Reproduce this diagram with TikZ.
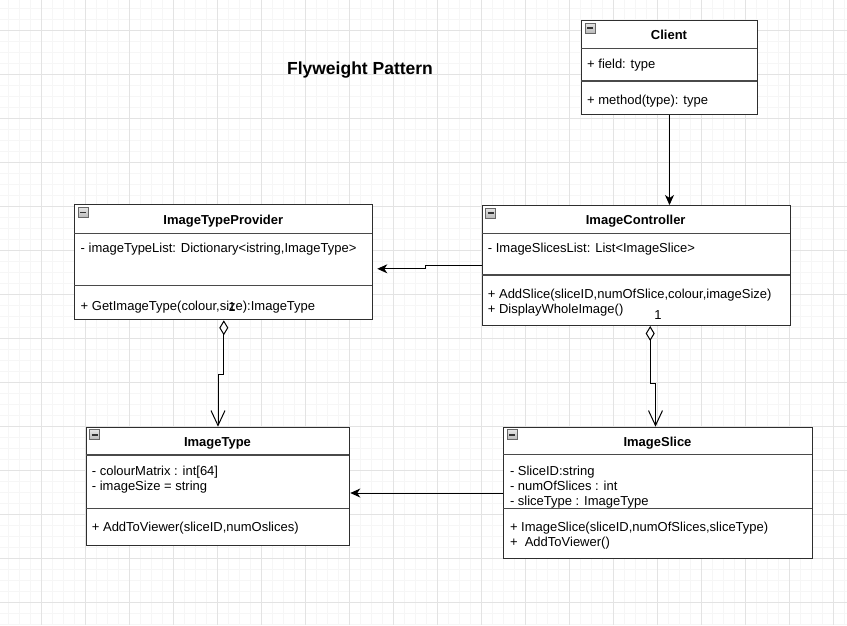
\documentclass[tikz,border=0pt]{standalone}
\usepackage{fontspec}
\setmainfont{Liberation Sans}
\usetikzlibrary{arrows.meta,calc}

\definecolor{minorgrid}{HTML}{F6F6F6}
\definecolor{majorgrid}{HTML}{E3E3E3}
\definecolor{boxgray}{HTML}{2E2E2E}
\definecolor{divgray}{HTML}{4A4A4A}

\tikzset{
  classbox/.style={draw=boxgray, line width=1pt, fill=white, inner sep=0pt, anchor=north west},
  divider/.style={draw=divgray, line width=1.3pt},
  classtitle/.style={font=\fontsize{13}{15}\selectfont\bfseries, anchor=base, inner sep=0pt},
  member/.style={font=\fontsize{13}{15}\selectfont, anchor=base west, inner sep=0pt},
  multiplicity/.style={font=\fontsize{13}{15}\selectfont, anchor=base, inner sep=0pt},
  link/.style={draw=black, line width=1pt},
  assoc/.style={link, -{Stealth[length=10pt,width=9pt,inset=3pt]}},
  aggreg/.style={link, {Diamond[open,length=15pt,width=9pt,line width=1pt]}-{Straight Barb[length=15pt,width=14pt,line width=1pt]}},
}

% small collapse toggle drawn in a class header
\newcommand{\collapseicon}[1]{%
  \draw[draw=gray!80!black, line width=0.6pt, top color=gray!20, bottom color=gray!55]
    ([shift={(4,3)}]#1.north west) rectangle ([shift={(14,13)}]#1.north west);
  \draw[line width=1.6pt, draw=gray!40!black]
    ([shift={(6,8)}]#1.north west) -- ([shift={(12,8)}]#1.north west);
}

\begin{document}
\begin{tikzpicture}[x=1pt, y=-1pt]
  \useasboundingbox (0,0) rectangle (847,625);
  \fill[white] (0,0) rectangle (847,625);

  % background grid
  \foreach \g in {8,19,...,847} \draw[minorgrid, line width=1pt] (\g,0) -- (\g,625);
  \foreach \g in {8,19,...,625} \draw[minorgrid, line width=1pt] (0,\g) -- (847,\g);
  \foreach \g in {41,85,...,847} \draw[majorgrid, line width=1pt] (\g,0) -- (\g,625);
  \foreach \g in {30,74,...,625} \draw[majorgrid, line width=1pt] (0,\g) -- (847,\g);

  % title
  \node[font=\fontsize{17.5}{20}\selectfont\bfseries, anchor=base, inner sep=0pt] (title) at (360,74) {Flyweight Pattern};

  % ---------- Client ----------
  \node[classbox, minimum width=176pt, minimum height=94pt] (client) at (581,20) {};
  \draw[divider] (581,48.3) -- (757,48.3);
  \draw[divider] (581,81) -- (757,81);
  \collapseicon{client}
  \node[classtitle] (clientT) at (669,39.5) {Client};
  \node[member] (clientA) at (587,68.3) {+ field: type};
  \node[member] (clientM) at (587,104.5) {+ method(type): type};

  % ---------- ImageTypeProvider ----------
  \node[classbox, minimum width=298pt, minimum height=115pt] (itp) at (74.3,204.3) {};
  \draw[divider] (74.3,233.3) -- (372.3,233.3);
  \draw[divider] (74.3,285.7) -- (372.3,285.7);
  \collapseicon{itp}
  \node[classtitle] (itpT) at (223.3,224.3) {ImageTypeProvider};
  \node[member] (itpA) at (80.5,252.3) {- imageTypeList: Dictionary<istring,ImageType>};
  \node[member] (itpM) at (80.5,310) {+ GetImageType(colour,size):ImageType};

  % ---------- ImageController ----------
  \node[classbox, minimum width=308pt, minimum height=120pt] (ic) at (481.7,205) {};
  \draw[divider] (481.7,233.3) -- (789.7,233.3);
  \draw[divider] (481.7,275) -- (789.7,275);
  \collapseicon{ic}
  \node[classtitle] (icT) at (635.7,224.3) {ImageController};
  \node[member] (icA) at (487.7,252.3) {- ImageSlicesList: List<ImageSlice>};
  \node[member] (icM1) at (487.7,298.3) {+ AddSlice(sliceID,numOfSlice,colour,imageSize)};
  \node[member] (icM2) at (487.7,313.3) {+ DisplayWholeImage()};

  % ---------- ImageType ----------
  \node[classbox, minimum width=263.6pt, minimum height=118.3pt] (it) at (85.7,426.7) {};
  \draw[divider] (85.7,455) -- (349.3,455);
  \draw[divider] (85.7,508.3) -- (349.3,508.3);
  \collapseicon{it}
  \node[classtitle] (itT) at (217.5,446) {ImageType};
  \node[member] (itA1) at (91.7,475) {- colourMatrix : int[64]};
  \node[member] (itA2) at (91.7,490) {- imageSize = string};
  \node[member] (itM) at (91.7,531.7) {+ AddToViewer(sliceID,numOslices)};

  % ---------- ImageSlice ----------
  \node[classbox, minimum width=308.4pt, minimum height=131.6pt] (is) at (503.3,426.7) {};
  \draw[divider] (503.3,454.3) -- (811.7,454.3);
  \draw[divider] (503.3,508.3) -- (811.7,508.3);
  \collapseicon{is}
  \node[classtitle] (isT) at (657.5,446) {ImageSlice};
  \node[member] (isA1) at (509.8,475) {- SliceID:string};
  \node[member] (isA2) at (509.8,490) {- numOfSlices : int};
  \node[member] (isA3) at (509.8,505) {- sliceType : ImageType};
  \node[member] (isM1) at (509.8,531.7) {+ ImageSlice(sliceID,numOfSlices,sliceType)};
  \node[member] (isM2) at (509.8,546.7) {+\ \ AddToViewer()};

  % ---------- connectors ----------
  \draw[assoc] (client.south) -- (client.south |- ic.north);
  \draw[assoc] (ic.west) -- ++(-56,0) |- ($(itp.east)+(4,6.5)$);
  \draw[assoc] (is.west) -- (is.west -| it.east);
  \draw[aggreg] (itp.south) -- ++(0,54) -| (it.north);
  \draw[aggreg] ([xshift=14pt]ic.south) -- ++(0,57) -| ([xshift=-2.5pt]is.north);

  % multiplicities at the aggregate ends
  \node[multiplicity] (m1) at (232,311) {1};
  \node[multiplicity] (m2) at (658,319) {1};
\end{tikzpicture}
\end{document}
